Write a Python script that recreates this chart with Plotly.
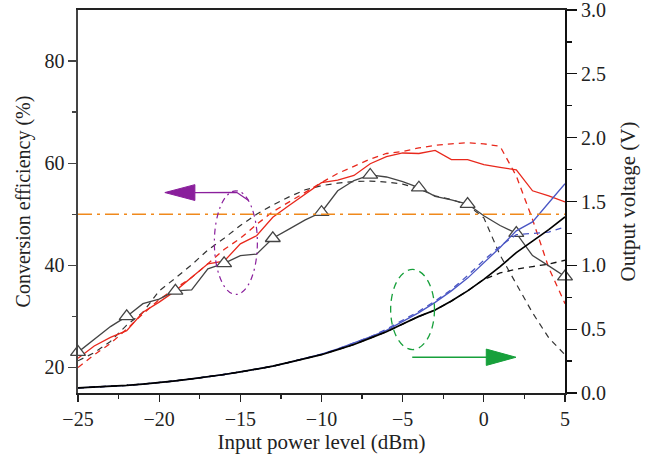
import plotly.graph_objects as go

# ---------------- data ----------------
power_dbm = list(range(-25, 6))

eff_meas = [23.0, 25.5, 28.0, 30.0, 32.5, 33.4, 35.0, 35.2, 39.3, 40.4, 41.9, 42.2, 45.3,
            47.1, 48.9, 50.4, 54.6, 56.6, 57.7, 57.3, 56.4, 55.2, 53.5, 52.8, 52.0, 49.7,
            47.8, 46.3, 41.9, 39.9, 37.8]
eff_sim = [21.3, 22.9, 25.1, 28.3, 30.8, 35.0, 37.5, 40.1, 43.0, 45.3, 47.8, 50.0, 51.8,
           53.4, 54.8, 55.6, 56.1, 56.4, 56.5, 56.3, 55.9, 55.0, 53.6, 52.9, 51.8, 49.3,
           42.0, 36.3, 30.7, 25.8, 22.5]
eff_red = [21.8, 24.2, 25.9, 27.2, 30.8, 32.8, 35.0, 37.6, 40.3, 40.8, 44.2, 45.8, 49.4,
           51.7, 54.0, 56.2, 56.7, 57.6, 59.9, 61.3, 62.0, 61.9, 62.5, 60.7, 60.7, 59.7,
           59.2, 58.7, 54.6, 53.6, 52.4]
eff_red_sim = [20.0, 22.5, 24.7, 27.5, 30.5, 33.3, 35.5, 37.6, 40.3, 43.1, 45.3, 48.0, 50.5,
               52.4, 54.4, 56.2, 58.0, 59.4, 60.8, 61.9, 62.3, 63.0, 63.5, 63.8, 64.0, 63.8,
               63.3, 57.5, 49.0, 39.5, 32.5]

volt_black = [0.04, 0.045, 0.05, 0.06, 0.07, 0.08, 0.095, 0.11, 0.125, 0.145, 0.165, 0.185,
              0.21, 0.24, 0.27, 0.30, 0.34, 0.38, 0.43, 0.48, 0.54, 0.60, 0.65, 0.72, 0.80,
              0.89, 0.99, 1.10, 1.19, 1.28, 1.38]
volt_black_sim = [0.04, 0.045, 0.05, 0.06, 0.07, 0.08, 0.095, 0.11, 0.125, 0.145, 0.165, 0.185,
                  0.21, 0.24, 0.27, 0.30, 0.34, 0.38, 0.43, 0.48, 0.54, 0.60, 0.65, 0.72, 0.80,
                  0.89, 0.94, 0.97, 0.99, 1.01, 1.04]
volt_blue = [0.04, 0.045, 0.05, 0.06, 0.07, 0.08, 0.095, 0.11, 0.125, 0.145, 0.165, 0.185,
             0.21, 0.24, 0.27, 0.305, 0.345, 0.39, 0.44, 0.49, 0.56, 0.63, 0.71, 0.80, 0.90,
             1.02, 1.14, 1.27, 1.34, 1.49, 1.64]
volt_blue_sim = [0.04, 0.045, 0.05, 0.06, 0.07, 0.08, 0.095, 0.11, 0.125, 0.145, 0.165, 0.185,
                 0.21, 0.24, 0.27, 0.305, 0.345, 0.39, 0.44, 0.50, 0.57, 0.64, 0.72, 0.81, 0.92,
                 1.04, 1.15, 1.24, 1.25, 1.26, 1.30]

threshold_v = 1.4

x_ticks = [-25, -20, -15, -10, -5, 0, 5]
y1_ticks = [20, 40, 60, 80]
y2_ticks = [0.0, 0.5, 1.0, 1.5, 2.0, 2.5, 3.0]

# ---------------- figure ----------------
fig = go.Figure()
dash_pat = "6px,5px"

def add(x, y, color, width, dash="solid", yaxis="y"):
    fig.add_trace(go.Scatter(x=x, y=y, mode="lines", yaxis=yaxis,
                             line=dict(color=color, width=width, dash=dash),
                             showlegend=False, hoverinfo="skip"))

# voltage curves (right axis)
add(power_dbm, volt_blue_sim, "#4a56c4", 1.3, dash_pat, "y2")
add(power_dbm, volt_blue, "#4a56c4", 1.3, "solid", "y2")
add(power_dbm, volt_black_sim, "#111111", 1.3, dash_pat, "y2")
add(power_dbm, volt_black, "#000000", 1.7, "solid", "y2")
# threshold line
add([power_dbm[0], power_dbm[-1]], [threshold_v, threshold_v], "#f0891c", 1.6,
    "14px,5px,3px,5px", "y2")
# efficiency curves (left axis)
add(power_dbm, eff_sim, "#333333", 1.2, dash_pat)
add(power_dbm, eff_red_sim, "#e8281c", 1.3, dash_pat)
add(power_dbm, eff_red, "#e8281c", 1.3)
add(power_dbm, eff_meas, "#444444", 1.3)
fig.add_trace(go.Scatter(x=power_dbm[::3], y=eff_meas[::3], mode="markers",
                         marker=dict(symbol="triangle-up", size=13, color="white",
                                     line=dict(color="#444444", width=1.3)),
                         showlegend=False, hoverinfo="skip", cliponaxis=False))

purple = "#8a1f9c"
green = "#17a03b"
shapes = [
    dict(type="circle", xref="x", yref="y", x0=-16.6, x1=-13.95, y0=34.3, y1=54.6,
         line=dict(color=purple, width=1.2, dash="6px,4px,2px,4px")),
    dict(type="path", xref="x", yref="y",
         path="M -14.49 52.7 L -15.23 54.3 L -17.8 54.25",
         line=dict(color=purple, width=1.3)),
    dict(type="path", xref="x", yref="y",
         path="M -17.8 55.8 L -19.65 54.25 L -17.8 52.7 Z",
         fillcolor=purple, line=dict(color=purple, width=1)),
    dict(type="circle", xref="x", yref="y", x0=-5.74, x1=-3.04, y0=23.5, y1=39.2,
         line=dict(color=green, width=1.3, dash="7px,5px")),
    dict(type="line", xref="x", yref="y", x0=-4.41, x1=0.2, y0=22.0, y1=22.0,
         line=dict(color=green, width=1.4)),
    dict(type="path", xref="x", yref="y",
         path="M 0.15 23.6 L 1.98 22.0 L 0.15 20.4 Z",
         fillcolor=green, line=dict(color=green, width=1)),
]

font_family = "Liberation Serif, Times New Roman, serif"
fig.update_layout(
    width=658, height=462,
    margin=dict(l=77.5, r=92.5, t=10, b=69.3, autoexpand=False),
    paper_bgcolor="white", plot_bgcolor="white",
    font=dict(family=font_family, size=20, color="#222222"),
    shapes=shapes,
    xaxis=dict(range=[-25, 5], tickvals=x_ticks, ticks="outside", ticklen=7, tickwidth=1.3,
               tickcolor="#222", showline=True, linecolor="#222", linewidth=1.6,
               mirror=True, showgrid=False, zeroline=False, automargin=False,
               ticklabeloverflow="allow",
               minor=dict(ticks="outside", ticklen=4, dtick=2.5, tick0=-25, tickcolor="#222"),
               title=dict(text="Input power level (dBm)", standoff=5,
                          font=dict(size=21))),
    yaxis=dict(range=[15, 90], tickvals=y1_ticks, ticks="outside", ticklen=8, tickwidth=1.3,
               tickcolor="#444", showline=True, linecolor="#444", linewidth=1.6,
               showgrid=False, zeroline=False, automargin=False,
               ticklabeloverflow="allow",
               minor=dict(ticks="outside", ticklen=4, tickvals=[30, 50, 70], tickcolor="#444"),
               title=dict(text="Conversion efficiency (%)", standoff=8,
                          font=dict(size=20))),
    yaxis2=dict(range=[0, 3], tickvals=y2_ticks, tickformat=".1f", overlaying="y",
                side="right", ticks="outside", ticklen=10, tickwidth=1.3, tickcolor="#111",
                showline=True, linecolor="#111", linewidth=2, showgrid=False,
                zeroline=False, automargin=False, ticklabeloverflow="allow",
                minor=dict(ticks="outside", ticklen=5, dtick=0.25, tick0=0, tickcolor="#111"),
                title=dict(text="Output voltage (V)", standoff=15,
                           font=dict(size=21))),
)

fig.write_html("out.html",
               config={"displayModeBar": False, "staticPlot": True},
               post_script="document.body.style.margin='0';document.body.style.overflow='hidden';")
